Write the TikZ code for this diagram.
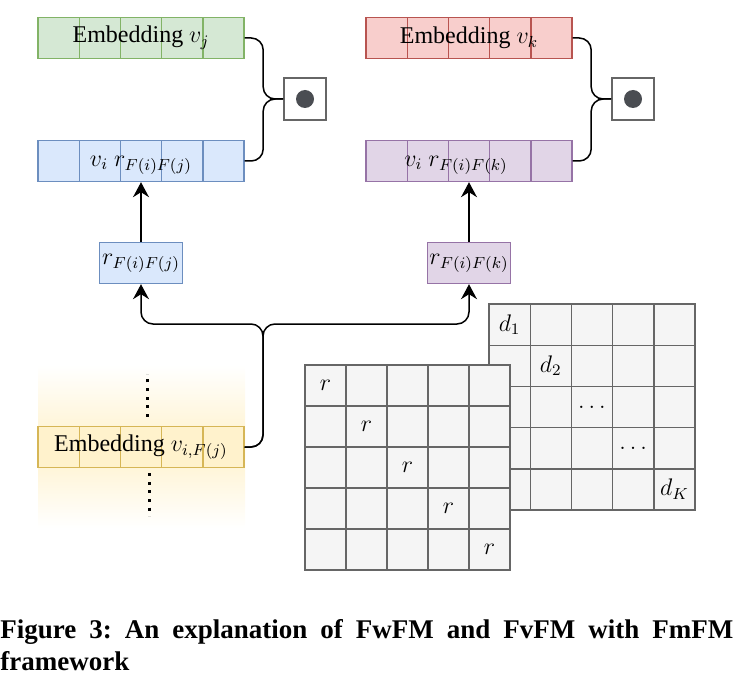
\documentclass[tikz,border=0pt]{standalone}
\usepackage{fontspec}
\setmainfont{Liberation Serif}
\usetikzlibrary{arrows.meta, positioning}
\frenchspacing

\definecolor{greenfill}{HTML}{D5E8D4}
\definecolor{greenline}{HTML}{82B366}
\definecolor{redfill}{HTML}{F8CECC}
\definecolor{redline}{HTML}{B85450}
\definecolor{bluefill}{HTML}{DAE8FC}
\definecolor{blueline}{HTML}{6C8EBF}
\definecolor{purplefill}{HTML}{E1D5E7}
\definecolor{purpleline}{HTML}{9673A6}
\definecolor{yellowfill}{HTML}{FFF2CC}
\definecolor{yellowline}{HTML}{D6B656}
\definecolor{greyfill}{HTML}{F5F5F5}
\definecolor{greyline}{HTML}{666666}
\definecolor{dotgrey}{HTML}{4A4D52}

\begin{document}
\begin{tikzpicture}[
  x=0.5pt, y=-0.5pt,
  font=\fontsize{12}{14}\selectfont,
  bar/.style={draw=#1line, fill=#1fill, line width=0.7pt, minimum width=103pt,
    minimum height=20.5pt, inner sep=0pt,
    path picture={\foreach \k in {1,...,4}
      \draw[#1line, line width=0.7pt] ([xshift=\k*20.6pt]path picture bounding box.south west)
        -- ([xshift=\k*20.6pt]path picture bounding box.north west);}},
  rbox/.style={draw=#1line, fill=#1fill, line width=0.7pt, minimum width=41.5pt,
    minimum height=20.5pt, inner sep=0pt},
  dotbox/.style={draw=greyline, fill=white, line width=0.8pt, minimum size=21pt, inner sep=0pt,
    path picture={\fill[dotgrey] (path picture bounding box.center) circle (4.5pt);}},
  cell/.style={draw=greyline, fill=greyfill, line width=0.7pt, minimum size=20.6pt, inner sep=0pt},
  link/.style={line width=0.75pt, rounded corners=6pt},
  arr/.style={link, -{Stealth[length=7.5pt, width=8pt, inset=2.5pt]}},
  dots/.style={line width=1.5pt, dash pattern=on 1.5pt off 2.8pt}
]
\useasboundingbox (0,0) rectangle (743,684);

% left pair
\node[bar=green] (embj) at (141,38) {Embedding $v_j$};
\node[bar=blue, label={[yshift=-2pt]center:$v_i\ r_{F(i)F(j)}$}] (vrj) at (141,161) {};
\node[dotbox] (dotj) at (305,99) {};
\node[rbox=blue] (rj) at (141,263) {$r_{F(i)F(j)}$};

% right pair
\node[bar=red] (embk) at (469,38) {Embedding $v_k$};
\node[bar=purple, label={[xshift=-6.5pt, yshift=-2pt]center:$v_i\ r_{F(i)F(k)}$}] (vrk) at (469,161) {};
\node[dotbox] (dotk) at (633,99) {};
\node[rbox=purple] (rk) at (469,263) {$r_{F(i)F(k)}$};

% input field
\shade[top color=white, bottom color=yellowfill] (38,365) rectangle (245,447);
\shade[top color=yellowfill, bottom color=white] (38,447) rectangle (245,528);
\node[bar=yellow] (embi) at (141,447) {Embedding $v_{i,F(j)}$};
\draw[dots] ([xshift=3pt, yshift=4.5pt]embi.north) -- ++(0,-43);
\draw[dots] ([xshift=4pt, yshift=-2.5pt]embi.south) -- ++(0,43);

% braces
\draw[link] (embj.east) -| ([xshift=-10pt]dotj.west) -- (dotj.west);
\draw[link] (vrj.east) -| ([xshift=-10pt]dotj.west) -- (dotj.west);
\draw[link] (embk.east) -| ([xshift=-10pt]dotk.west) -- (dotk.west);
\draw[link] (vrk.east) -| ([xshift=-10pt]dotk.west) -- (dotk.west);

\draw[arr] (rj.north) -- (vrj.south);
\draw[arr] (rk.north) -- (vrk.south);

\coordinate (split) at (263,324);
\draw[arr] (embi.east) -| (split) -| (rj.south);
\draw[arr] (embi.east) -| (split) -| (rk.south);

% field matrices
\foreach \i in {1,...,5}
  \foreach \j in {1,...,5}
    \node[cell] (d\i\j) at ({489+41.2*(\j-0.5)}, {304+41.2*(\i-0.5)}) {};
\node (dl1) at (d11) {$d_1$};
\node (dl2) at (d22) {$d_2$};
\node (dl3) at (d33) {$\dots$};
\node (dl4) at (d44) {$\dots$};
\node (dl5) at (d55) {$d_K$};

\foreach \i in {1,...,5}
  \foreach \j in {1,...,5}
    \node[cell] (r\i\j) at ({305+41*(\j-0.5)}, {365+41*(\i-0.5)}) {};
\foreach \i in {1,...,5}
  \node (rl\i) at (r\i\i) {$r$};

\node[anchor=north west, text width=366.5pt, align=justify, inner sep=0pt,
  font=\fontsize{13.5}{16}\selectfont\bfseries] (caption) at (0,619)
  {Figure 3: An explanation of FwFM and FvFM with FmFM framework};
\end{tikzpicture}
\end{document}
